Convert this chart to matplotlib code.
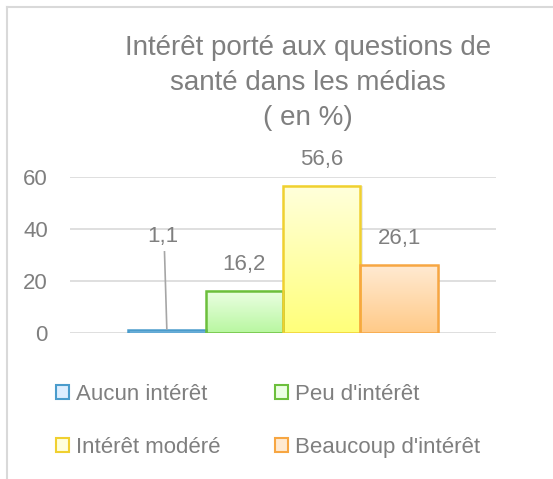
import numpy as np
import matplotlib
matplotlib.use("Agg")
import matplotlib.pyplot as plt
import matplotlib.patches as mpatches
from matplotlib.colors import LinearSegmentedColormap

plt.rcParams["font.family"] = ["Liberation Sans", "DejaVu Sans"]

TITLE = "Intérêt porté aux questions de\nsanté dans les médias\n( en %)"
CATEGORIES = ["Aucun intérêt", "Peu d'intérêt", "Intérêt modéré", "Beaucoup d'intérêt"]
VALUES = [1.1, 16.2, 56.6, 26.1]
LABELS = ["1,1", "16,2", "56,6", "26,1"]
YTICKS = [0, 20, 40, 60]

# couleurs (haut, bas, contour) de chaque barre
TOP_COLORS = ["#ddeeff", "#ecffe4", "#ffffdc", "#ffead2"]
BOTTOM_COLORS = ["#a9d3f2", "#b8f7a0", "#ffff7a", "#ffca88"]
EDGE_COLORS = ["#4a9ccc", "#6cbf3c", "#f0d030", "#f7a642"]
TEXT = "#7f7f7f"
GRID = "#d9d9d9"

W, H = 553, 479
fig = plt.figure(figsize=(W / 100, H / 100), dpi=100)
fig.patch.set_facecolor("white")

# cadre du graphique (gauche + haut)
fig.add_artist(plt.Line2D([7 / W, 7 / W], [0, 1 - 7 / H], color=GRID, lw=1.5))
fig.add_artist(plt.Line2D([7 / W, 1], [1 - 7 / H, 1 - 7 / H], color=GRID, lw=1.5))

ax = fig.add_axes([70 / W, (H - 333) / H, 426 / W, 156 / H])
for s in ax.spines.values():
    s.set_visible(False)
ax.set_yticks(YTICKS)
ax.set_yticklabels([str(t) for t in YTICKS])
ax.tick_params(axis="y", length=0, labelsize=16, labelcolor=TEXT, pad=16)
ax.set_xticks([])
ax.yaxis.grid(True, color=GRID, lw=1.2)
ax.set_axisbelow(True)

x = np.arange(len(VALUES))
grad = np.linspace(0, 1, 256).reshape(-1, 1)
for i, v in enumerate(VALUES):
    cmap = LinearSegmentedColormap.from_list("g%d" % i, [BOTTOM_COLORS[i], TOP_COLORS[i]])
    # ombre légère
    ax.add_patch(mpatches.Rectangle((x[i] - 0.5 + 0.03, -0.8), 1, v + 0.8,
                                    facecolor="#000000", alpha=0.08, lw=0, zorder=2))
    ax.imshow(grad, extent=(x[i] - 0.5, x[i] + 0.5, 0, v), origin="lower",
              cmap=cmap, aspect="auto", zorder=3)
    ax.add_patch(mpatches.Rectangle((x[i] - 0.5, 0), 1, v, facecolor="none",
                                    edgecolor=EDGE_COLORS[i], lw=1.8, zorder=4))
ax.set_xlim(-1.25, 4.25)
ax.set_ylim(0, 60)

# étiquettes de données
for i, v in enumerate(VALUES):
    if i == 0:
        ax.text(x[i] - 0.05, 37.2, LABELS[i], ha="center", va="center",
                fontsize=16, color=TEXT, clip_on=False)
        ax.plot([x[i] - 0.03, x[i] + 0.0], [31.2, 1.6], color="#a6a6a6", lw=1.2, zorder=5)
    else:
        ax.text(x[i], v + 10.2, LABELS[i], ha="center", va="center",
                fontsize=16, color=TEXT, clip_on=False)

fig.text(308 / W, 1 - 83 / H, TITLE, ha="center", va="center", fontsize=20,
         color=TEXT, linespacing=1.45)

handles = [mpatches.Patch(facecolor=TOP_COLORS[i], edgecolor=EDGE_COLORS[i], lw=1.5,
                          label=CATEGORIES[i]) for i in range(len(CATEGORIES))]
order = [0, 2, 1, 3]
fig.legend(handles=[handles[k] for k in order], loc="upper left",
           bbox_to_anchor=(56 / W, 1 - 384 / H), ncol=2, frameon=False,
           fontsize=16, labelcolor=TEXT, borderpad=0, borderaxespad=0,
           handlelength=0.6, handleheight=0.6, handletextpad=0.3,
           columnspacing=2.45, labelspacing=1.45)

fig.savefig("out.png", dpi=100, facecolor="white")
